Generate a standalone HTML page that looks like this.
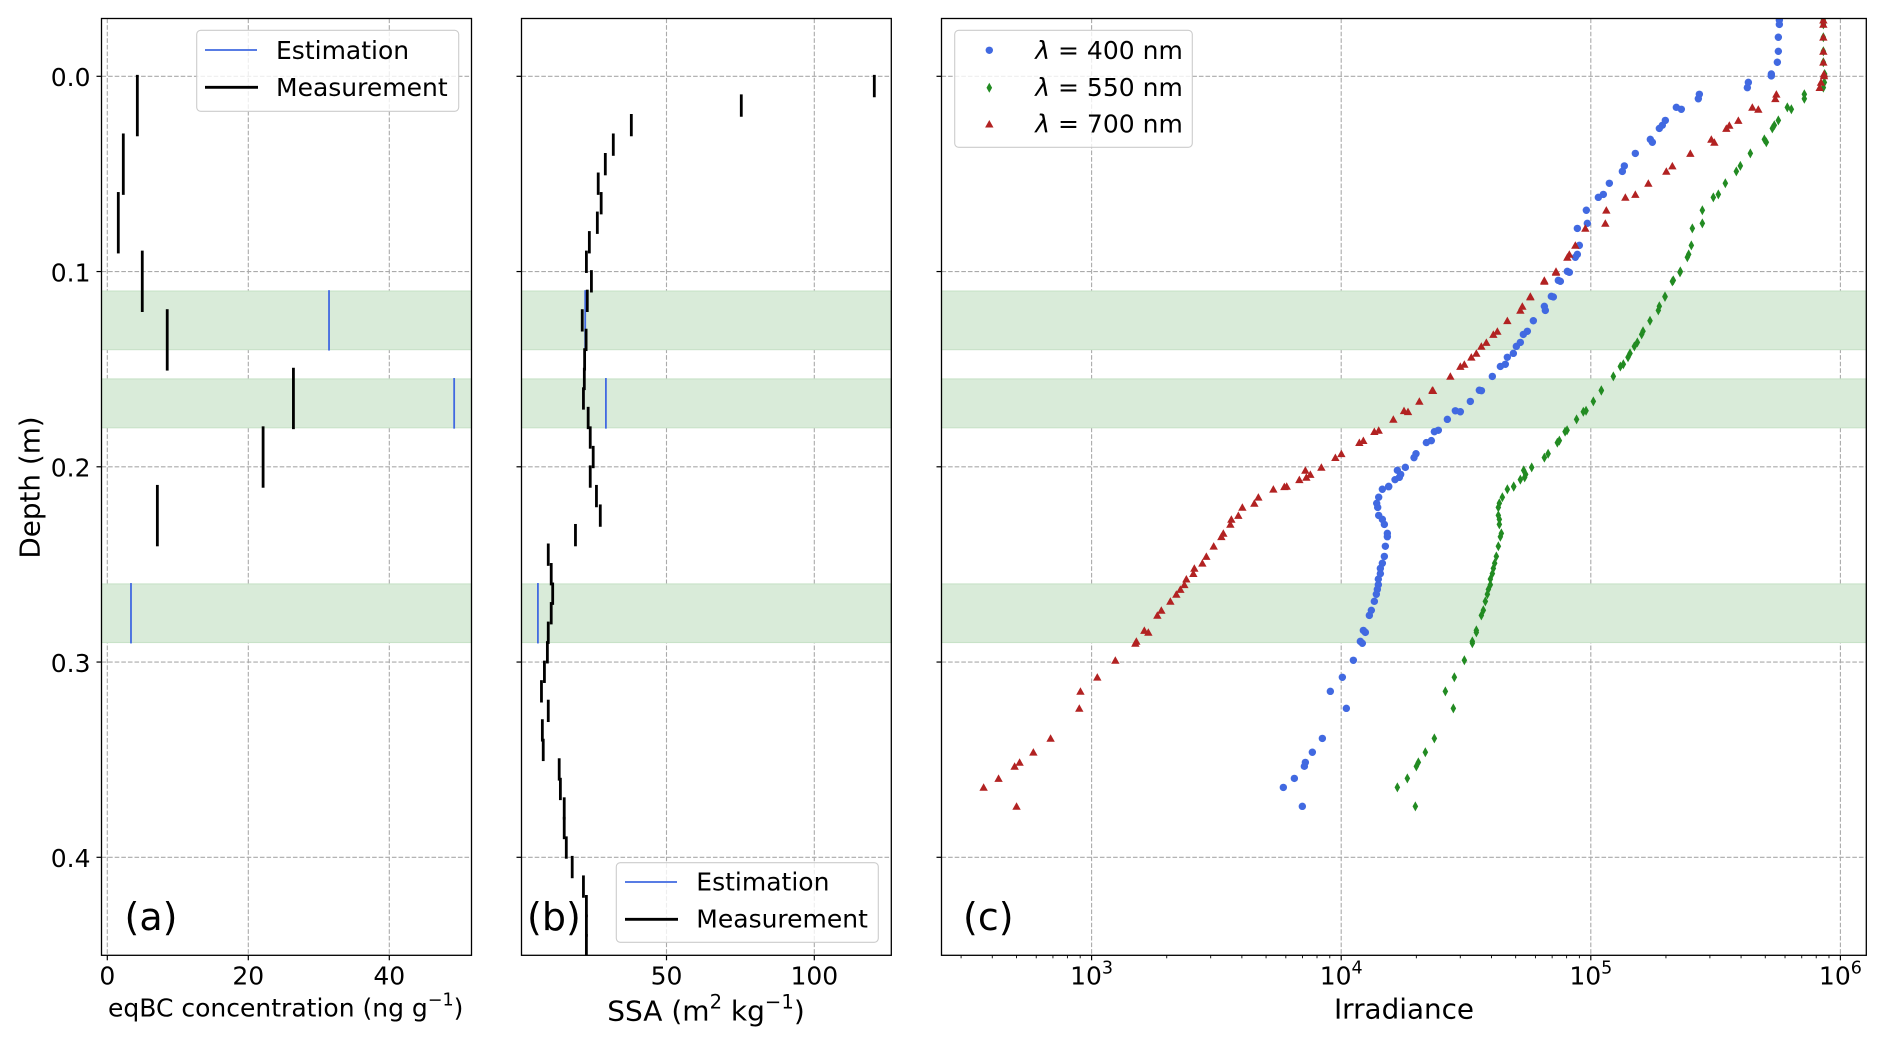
<!DOCTYPE html>
<html lang="en">
<head>
<meta charset="utf-8">
<title>Snow depth profiles</title>
<style>
html,body{margin:0;padding:0;background:#fff;}
svg{display:block;font-family:"DejaVu Sans","Liberation Sans",sans-serif;fill:#000;}
</style>
</head>
<body>
<svg id="fig" xmlns="http://www.w3.org/2000/svg" width="1886" height="1045" viewBox="0 0 1886 1045">
  <defs>
    <clipPath id="clipA"><rect x="101.5" y="18.5" width="370" height="936.8"/></clipPath>
    <clipPath id="clipB"><rect x="521.5" y="18.5" width="369.8" height="936.8"/></clipPath>
    <clipPath id="clipC"><rect x="941.5" y="18.5" width="924.8" height="936.8"/></clipPath>
  </defs>
  <rect width="1886" height="1045" fill="#fff"/>
  <g id="panelA"></g>
  <g id="panelB"></g>
  <g id="panelC"></g>

  <text transform="translate(39.7,487.5) rotate(-90)" text-anchor="middle" font-size="27.8">Depth (m)</text>
  <text x="285.7" y="1016.7" text-anchor="middle" font-size="25">eqBC concentration (ng g<tspan font-size="17.5" dy="-11">−1</tspan><tspan dy="11">)</tspan></text>
  <text x="706" y="1020.7" text-anchor="middle" font-size="28">SSA (m<tspan font-size="19.6" dy="-12">2</tspan><tspan dy="12"> kg</tspan><tspan font-size="19.6" dy="-12">−1</tspan><tspan dy="12">)</tspan></text>
  <text x="1404" y="1018.7" text-anchor="middle" font-size="27.8">Irradiance</text>

  <text x="124.5" y="929.8" font-size="38">(a)</text>
  <text x="527" y="929.8" font-size="38">(b)</text>
  <text x="963" y="929.8" font-size="38">(c)</text>

  <g>
    <rect x="196.7" y="30.3" width="262" height="81" rx="4" fill="#fff" fill-opacity="0.8" stroke="#cccccc" stroke-width="1.1"/>
    <line x1="205" x2="257" y1="50" y2="50" stroke="#4169e1" stroke-width="1.7"/>
    <text x="276" y="59" font-size="25">Estimation</text>
    <line x1="205" x2="258" y1="87.3" y2="87.3" stroke="#000" stroke-width="2.8"/>
    <text x="276" y="96" font-size="25">Measurement</text>
  </g>
  <g>
    <rect x="616.3" y="862.7" width="262" height="79.6" rx="4" fill="#fff" fill-opacity="0.8" stroke="#cccccc" stroke-width="1.1"/>
    <line x1="625" x2="677" y1="882" y2="882" stroke="#4169e1" stroke-width="1.7"/>
    <text x="696.3" y="890.7" font-size="25">Estimation</text>
    <line x1="625" x2="678" y1="919.3" y2="919.3" stroke="#000" stroke-width="2.8"/>
    <text x="696.3" y="927.4" font-size="25">Measurement</text>
  </g>
  <g>
    <rect x="954.7" y="30.3" width="237.6" height="117" rx="4" fill="#fff" fill-opacity="0.8" stroke="#cccccc" stroke-width="1.1"/>
    <circle cx="989.3" cy="50.3" r="3.7" fill="#4169e1"/>
    <text x="1035.3" y="59" font-size="25"><tspan font-style="italic">λ</tspan> = 400 nm</text>
    <path d="M989.3 82.7 L992.1 87.7 L989.3 92.7 L986.5 87.7 Z" fill="#228b22"/>
    <text x="1035.3" y="96" font-size="25"><tspan font-style="italic">λ</tspan> = 550 nm</text>
    <path d="M989.3 120 L993.5 127.5 L985.1 127.5 Z" fill="#b22222"/>
    <text x="1035.3" y="132.3" font-size="25"><tspan font-style="italic">λ</tspan> = 700 nm</text>
  </g>
</svg>
<script>
// ---- shared ----
const depthTicks = [0.0, 0.1, 0.2, 0.3, 0.4];
const depthTickLabels = ["0.0", "0.1", "0.2", "0.3", "0.4"];
const bandTops = [0.11, 0.155, 0.26];
const bandBottoms = [0.14, 0.18, 0.29];

// ---- panel a: eqBC ----
const bcTicks = [0, 20, 40];
const bcTickLabels = ["0", "20", "40"];
const bcTops = [0.00, 0.03, 0.06, 0.09, 0.12, 0.15, 0.18, 0.21];
const bcBottoms = [0.03, 0.06, 0.09, 0.12, 0.15, 0.18, 0.21, 0.24];
const bcMeasured = [4.26, 2.27, 1.56, 4.96, 8.5, 26.4, 22.1, 7.1];
const bcEstimated = [31.45, 49.2, 3.36];

// ---- panel b: SSA ----
const ssaTicks = [50, 100];
const ssaTickLabels = ["50", "100"];
const ssaTops = [0.00,0.01,0.02,0.03,0.04,0.05,0.06,0.07,0.08,0.09,0.10,0.11,0.12,0.13,0.14,0.15,0.16,0.17,0.18,0.19,0.20,0.21,0.22,0.23,0.24,0.25,0.26,0.27,0.28,0.29,0.30,0.31,0.32,0.33,0.34,0.35,0.36,0.37,0.38,0.39,0.40,0.41,0.42,0.43,0.44];
const ssaMeasured = [120.3,75.3,38.1,32,29.3,26.9,27.9,26.6,23.9,22.9,24.6,23.2,21.5,22.8,22.3,22.2,21.9,23.5,24.2,25.2,24.2,26.3,27.6,19.2,10,11,11.5,11,10,9.7,8.7,7.7,10,8,8.3,13.7,14.1,15.4,15.4,16.1,18.1,21.9,22.9,22.9,22.9];
const ssaEstimated = [22.5, 29.5, 6.5];

// ---- panel c: irradiance (log10 of irradiance) ----
const irrDecades = [3, 4, 5, 6];
const irrDepth = [-0.0288,-0.0266,-0.0200,-0.0128,-0.0072,-0.0012,-0.0002,0.0031,0.0058,0.0092,0.0115,0.0159,0.0169,0.0226,0.0251,0.0267,0.0323,0.0338,0.0395,0.0459,0.0487,0.0548,0.0605,0.0620,0.0686,0.0753,0.0779,0.0866,0.0912,0.0927,0.0999,0.1004,0.1045,0.1050,0.1127,0.1130,0.1178,0.1199,0.1252,0.1306,0.1322,0.1363,0.1383,0.1419,0.1439,0.1475,0.1486,0.1537,0.1608,0.1610,0.1665,0.1713,0.1718,0.1757,0.1813,0.1820,0.1866,0.1876,0.1933,0.1953,0.2003,0.2018,0.2039,0.2054,0.2066,0.2100,0.2102,0.2115,0.2156,0.2187,0.2208,0.2249,0.2269,0.2295,0.2341,0.2358,0.2407,0.2459,0.2494,0.2520,0.2547,0.2575,0.2604,0.2628,0.2653,0.2689,0.2735,0.2761,0.2838,0.2848,0.2894,0.2904,0.2991,0.3078,0.3150,0.3237,0.3391,0.3462,0.3514,0.3534,0.3596,0.3642,0.3739];
const irr400 = [5.7554,5.7554,5.7514,5.7514,5.7474,5.7233,5.7233,5.6312,5.6272,5.4349,5.4308,5.3427,5.3627,5.2986,5.2866,5.2746,5.2385,5.2466,5.1784,5.1344,5.1264,5.0743,5.0502,5.0302,4.9821,4.9861,4.9461,4.9541,4.9461,4.9380,4.9060,4.9140,4.8699,4.8780,4.8419,4.8500,4.8139,4.8179,4.7698,4.7458,4.7297,4.7177,4.7017,4.6897,4.6656,4.6576,4.6376,4.6055,4.5534,4.5620,4.5174,4.4573,4.4774,4.4253,4.3892,4.3732,4.3612,4.3412,4.2997,4.2917,4.2570,4.2250,4.2383,4.2330,4.2156,4.1902,4.1902,4.1649,4.1502,4.1422,4.1462,4.1502,4.1649,4.1729,4.1849,4.1849,4.1769,4.1729,4.1649,4.1569,4.1569,4.1488,4.1488,4.1448,4.1408,4.1328,4.1208,4.1128,4.0887,4.0968,4.0767,4.0847,4.0487,4.0046,3.9565,4.0206,3.9245,3.8844,3.8564,3.8524,3.8123,3.7682,3.8443];
const irr550 = [5.9317,5.9317,5.9317,5.9317,5.9317,5.9370,5.9370,5.9357,5.9317,5.8555,5.8555,5.7874,5.8035,5.7514,5.7353,5.7273,5.6953,5.7033,5.6392,5.5991,5.5831,5.5390,5.5110,5.4909,5.4469,5.4469,5.4068,5.4028,5.3921,5.3868,5.3587,5.3574,5.3307,5.3267,5.2973,5.2973,5.2746,5.2706,5.2372,5.2092,5.2038,5.1865,5.1745,5.1571,5.1491,5.1304,5.1184,5.0903,5.0422,5.0422,5.0102,4.981,4.970,4.943,4.905,4.897,4.874,4.866,4.829,4.814,4.7632,4.7311,4.7391,4.7351,4.7178,4.6911,4.6911,4.6657,4.6456,4.6336,4.6296,4.6296,4.6336,4.6336,4.6416,4.6376,4.6296,4.6216,4.6149,4.6096,4.6056,4.5976,4.5976,4.5896,4.5856,4.5775,4.5695,4.5615,4.5415,4.5415,4.5254,4.5254,4.4934,4.4533,4.4173,4.4493,4.3732,4.3371,4.3091,4.3011,4.2650,4.2250,4.2971];
const irr700 = [5.9317,5.9317,5.9317,5.9317,5.9317,5.9343,5.9343,5.9223,5.9170,5.7434,5.7393,5.6472,5.6712,5.5911,5.5550,5.5430,5.4829,5.4950,5.3988,5.3267,5.3026,5.2305,5.1784,5.1384,5.0622,5.0582,4.9781,4.9380,4.9140,4.9060,4.8606,4.8606,4.8138,4.8138,4.7578,4.7578,4.7257,4.7177,4.6656,4.6256,4.6095,4.5815,4.5615,4.5414,4.5214,4.4933,4.4773,4.4373,4.3651,4.3680,4.3131,4.2517,4.2677,4.2089,4.1502,4.1328,4.0887,4.0727,4.0006,3.9766,3.9205,3.8564,3.8764,3.8604,3.8323,3.7816,3.7722,3.7282,3.6681,3.6520,3.6040,3.5879,3.5599,3.5559,3.5278,3.5198,3.4891,3.4597,3.4437,3.4116,3.4076,3.3796,3.3716,3.3556,3.3395,3.3155,3.2794,3.2634,3.2113,3.2273,3.1793,3.1753,3.0951,3.0228,2.9553,2.9507,2.8357,2.7667,2.7115,2.6916,2.6272,2.5674,2.6993];

// ---- geometry & scales ----
const NS = "http://www.w3.org/2000/svg";
const axTop = 18.5, axBottom = 955.3;
const yDepth = d => 76.3 + 1952.5 * d;
const xBC = v => 107.3 + 7.05 * v;
const xSSA = v => 518.7 + 2.956 * v;
const xIrr = l => 1091.6 + 249.6 * (l - 3);

function mk(parent, tag, attrs, txt) {
  const el = document.createElementNS(NS, tag);
  for (const k in attrs) el.setAttribute(k, attrs[k]);
  if (txt !== undefined) el.textContent = txt;
  parent.appendChild(el);
  return el;
}
const GRID = {stroke: "#aaaaaa", "stroke-width": 1.1, "stroke-dasharray": "4.6 2", fill: "none"};

function drawGrid(g, left, right, xTicksPx) {
  depthTicks.forEach(d => {
    const el = mk(g, "line", Object.assign({x1: left, x2: right, y1: yDepth(d), y2: yDepth(d)}, GRID));
    
    
  });
  xTicksPx.forEach(x => {
    const el = mk(g, "line", Object.assign({x1: x, x2: x, y1: axTop, y2: axBottom}, GRID));
    
    
  });
}
function drawBands(g, left, right) {
  bandTops.forEach((t, i) => {
    const el = mk(g, "rect", {x: left, width: right - left, y: yDepth(t), height: yDepth(bandBottoms[i]) - yDepth(t), fill: "#d9ebd9", stroke: "#c8e2c8", "stroke-width": 1.1});
    
    
  });
}
function drawFrame(g, left, right, xTicksPx) {
  const fr = mk(g, "rect", {x: left, y: axTop, width: right - left, height: axBottom - axTop, fill: "none", stroke: "#000", "stroke-width": 1.3});
  
  
  depthTicks.forEach(d => {
    const el = mk(g, "line", {x1: left - 5, x2: left, y1: yDepth(d), y2: yDepth(d), stroke: "#000", "stroke-width": 1.2});
    
    
  });
  xTicksPx.forEach(x => {
    const el = mk(g, "line", {x1: x, x2: x, y1: axBottom, y2: axBottom + 5, stroke: "#000", "stroke-width": 1.2});
    
    
  });
}
function xLabel(g, x, txt) {
  const el = mk(g, "text", {x: x, y: 984.5, "text-anchor": "middle", "font-size": 25}, txt);
  
  
}

// ---- panel A ----
(function () {
  const g = document.getElementById("panelA");
  const left = 101.5, right = 471.5;
  const ticksPx = bcTicks.map(xBC);
  drawGrid(g, left, right, ticksPx);
  drawBands(g, left, right);
  const c = mk(g, "g", {"clip-path": "url(#clipA)"});
  bcEstimated.forEach((v, i) => {
    const el = mk(c, "line", {x1: xBC(v), x2: xBC(v), y1: yDepth(bandTops[i]), y2: yDepth(bandBottoms[i]), stroke: "#4169e1", "stroke-width": 1.8, "stroke-linecap": "square"});
    
    
  });
  bcMeasured.forEach((v, i) => {
    const el = mk(c, "line", {x1: xBC(v), x2: xBC(v), y1: yDepth(bcTops[i]), y2: yDepth(bcBottoms[i]), stroke: "#000", "stroke-width": 2.8, "stroke-linecap": "square"});
    
    
  });
  drawFrame(g, left, right, ticksPx);
  depthTicks.forEach((d, i) => {
    const el = mk(g, "text", {x: 90.5, y: yDepth(d) + 9.8, "text-anchor": "end", "font-size": 25}, depthTickLabels[i]);
    
    
  });
  bcTicks.forEach((t, i) => xLabel(g, xBC(t), bcTickLabels[i]));
})();

// ---- panel B ----
(function () {
  const g = document.getElementById("panelB");
  const left = 521.5, right = 891.3;
  const ticksPx = ssaTicks.map(xSSA);
  drawGrid(g, left, right, ticksPx);
  drawBands(g, left, right);
  const c = mk(g, "g", {"clip-path": "url(#clipB)"});
  ssaEstimated.forEach((v, i) => {
    const el = mk(c, "line", {x1: xSSA(v), x2: xSSA(v), y1: yDepth(bandTops[i]), y2: yDepth(bandBottoms[i]), stroke: "#4169e1", "stroke-width": 1.8, "stroke-linecap": "square"});
    
    
  });
  ssaMeasured.forEach((v, i) => {
    const el = mk(c, "line", {x1: xSSA(v), x2: xSSA(v), y1: yDepth(ssaTops[i]), y2: yDepth(ssaTops[i] + 0.01), stroke: "#000", "stroke-width": 2.8, "stroke-linecap": "square"});
    
    
  });
  drawFrame(g, left, right, ticksPx);
  ssaTicks.forEach((t, i) => xLabel(g, xSSA(t), ssaTickLabels[i]));
})();

// ---- panel C ----
(function () {
  const g = document.getElementById("panelC");
  const left = 941.5, right = 1866.3;
  const ticksPx = irrDecades.map(xIrr);
  drawGrid(g, left, right, ticksPx);
  drawBands(g, left, right);
  const c = mk(g, "g", {"clip-path": "url(#clipC)"});
  irrDepth.forEach((d, i) => {
    const el = mk(c, "circle", {cx: xIrr(irr400[i]), cy: yDepth(d), r: 3.7, fill: "#4169e1"});
    
    
  });
  irrDepth.forEach((d, i) => {
    const x = xIrr(irr550[i]), y = yDepth(d);
    const el = mk(c, "path", {d: `M${x} ${y - 5} L${x + 2.8} ${y} L${x} ${y + 5} L${x - 2.8} ${y} Z`, fill: "#228b22"});
    
    
  });
  irrDepth.forEach((d, i) => {
    const x = xIrr(irr700[i]), y = yDepth(d);
    const el = mk(c, "path", {d: `M${x} ${y - 4.1} L${x + 4.2} ${y + 3.4} L${x - 4.2} ${y + 3.4} Z`, fill: "#b22222"});
    
    
  });
  drawFrame(g, left, right, ticksPx);
  [2, 3, 4, 5].forEach(dec => {
    [2, 3, 4, 5, 6, 7, 8, 9].forEach(m => {
      const x = xIrr(dec + Math.log10(m));
      if (x < left || x > right) return;
      const el = mk(g, "line", {x1: x, x2: x, y1: axBottom, y2: axBottom + 3, stroke: "#000", "stroke-width": 0.9});
      
      
    });
  });
  irrDecades.forEach(e => {
    const t = mk(g, "text", {x: xIrr(e), y: 984.5, "text-anchor": "middle", "font-size": 25}, "10");
    
    
    const s = mk(t, "tspan", {"font-size": 17.5, dy: -11}, String(e));
    
    
  });
})();
</script>
</body>
</html>
